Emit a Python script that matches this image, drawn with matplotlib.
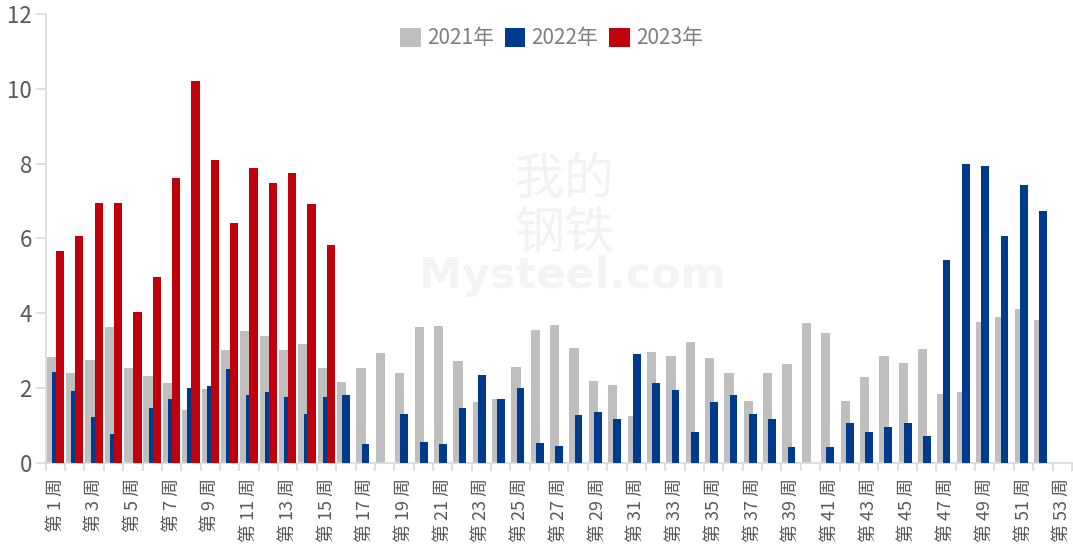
import matplotlib
matplotlib.use("Agg")
import matplotlib.pyplot as plt
from matplotlib.patches import Patch
import numpy as np

plt.rcParams['font.family'] = ['Noto Sans CJK SC', 'DejaVu Sans']

weeks = [f"第 {i} 周" for i in range(1, 54)]

s2021 = [2.84, 2.40, 2.75, 3.62, 2.53, 2.31, 2.13, 1.41, 1.97, 3.02,
         3.51, 3.40, 3.02, 3.17, 2.53, 2.17, 2.53, 2.93, 2.40, 3.63,
         3.66, 2.72, 1.61, 1.70, 2.55, 3.55, 3.68, 3.08, 2.19, 2.08,
         1.26, 2.97, 2.85, 3.22, 2.80, 2.40, 1.64, 2.40, 2.64, 3.74,
         3.46, 1.64, 2.30, 2.85, 2.66, 3.04, 1.83, 1.90, 3.77, 3.89,
         4.12, 3.82, 0]
s2022 = [2.42, 1.93, 1.23, 0.77, 0, 1.46, 1.70, 1.99, 2.04, 2.51,
         1.82, 1.88, 1.75, 1.30, 1.75, 1.82, 0.49, 0, 1.30, 0.56,
         0.49, 1.47, 2.34, 1.70, 2.00, 0.54, 0.45, 1.27, 1.36, 1.17,
         2.92, 2.13, 1.94, 0.83, 1.61, 1.81, 1.29, 1.17, 0.41, 0,
         0.41, 1.06, 0.83, 0.96, 1.06, 0.71, 5.43, 8.00, 7.94, 6.07,
         7.42, 6.72, 0]
s2023 = [5.66, 6.07, 6.95, 6.95, 4.02, 4.97, 7.62, 10.2, 8.10, 6.42,
         7.87, 7.47, 7.76, 6.92, 5.81]

series_names = ["2021年", "2022年", "2023年"]
colors = ["#bfbfbf", "#003a8c", "#c0000b"]

fig = plt.figure(figsize=(10.73, 5.49), dpi=100)
ax = fig.add_axes([0.0426, 0.1572, 0.9564, 0.8173])

n = len(weeks)
x = np.arange(n)
ax.bar(x + 0.05, s2021, width=0.48, align='edge', color=colors[0], zorder=2)
ax.bar(x + 0.32, s2022, width=0.40, align='edge', color=colors[1], zorder=3)
x23 = np.arange(len(s2023))
ax.bar(x23 + 0.52, s2023, width=0.43, align='edge', color=colors[2], zorder=4)

ax.set_xlim(0, n)
ax.set_ylim(0, 12)

# watermark
ax.text(0.513, 0.415, "Mysteel.com", transform=ax.transAxes, fontsize=31,
        fontweight='bold', color='#f4f4f4', ha='center', va='center', zorder=1,
        family=['DejaVu Sans'])
ax.text(0.505, 0.57, "我的\n钢铁", transform=ax.transAxes, fontsize=36,
        color='#f2f2f5', ha='center', va='center', zorder=1, linespacing=1.05)

# spines
for s in ['top', 'right']:
    ax.spines[s].set_visible(False)
for s in ['left', 'bottom']:
    ax.spines[s].set_color('#d9d9d9')
    ax.spines[s].set_linewidth(1.2)

ax.set_yticks(np.arange(0, 13, 2))
ax.tick_params(axis='y', length=7, width=1.2, color='#d9d9d9', labelsize=16,
               labelcolor='#595959', pad=3)

ax.set_xticks(np.arange(0, n + 1), minor=True)
ax.tick_params(axis='x', which='minor', length=6, width=1.2, color='#d9d9d9')
odd_pos = [i + 0.5 for i in range(0, n, 2)]
ax.set_xticks(odd_pos)
ax.set_xticklabels([weeks[i] for i in range(0, n, 2)], rotation=90, fontsize=13,
                   color='#595959', va='top', ha='center')
ax.tick_params(axis='x', which='major', length=0, pad=11)

handles = [Patch(facecolor=c, edgecolor='none') for c in colors]
leg = fig.legend(handles, series_names, loc='center', bbox_to_anchor=(0.514, 0.930),
                 ncol=3, frameon=False, fontsize=15, handlelength=1.0, handleheight=1.0,
                 handletextpad=0.3, columnspacing=0.5)
for t in leg.get_texts():
    t.set_color('#7f7f7f')

fig.savefig("out.png", dpi=100)
